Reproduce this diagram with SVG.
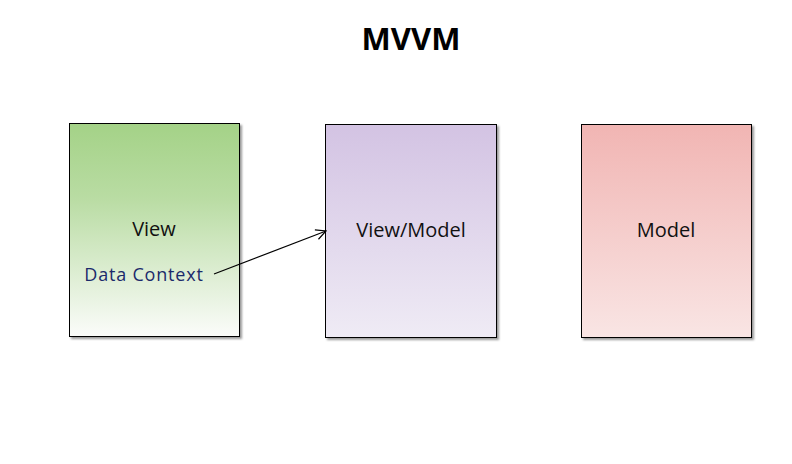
<svg xmlns="http://www.w3.org/2000/svg" width="792" height="464" viewBox="0 0 792 464">
<defs>
<linearGradient id="gV" x1="0" y1="0" x2="0" y2="1"><stop offset="0" stop-color="#a4d287"/><stop offset="0.35" stop-color="#b9dca3"/><stop offset="1" stop-color="#fbfcfa"/></linearGradient>
<linearGradient id="gVM" x1="0" y1="0" x2="0" y2="1"><stop offset="0" stop-color="#d3c3e3"/><stop offset="1" stop-color="#efebf5"/></linearGradient>
<linearGradient id="gM" x1="0" y1="0" x2="0" y2="1"><stop offset="0" stop-color="#f1b5b3"/><stop offset="1" stop-color="#f9e5e4"/></linearGradient>
<filter id="sh" x="-10%" y="-10%" width="130%" height="130%"><feDropShadow dx="2" dy="2" stdDeviation="1.2" flood-color="#000" flood-opacity="0.4"/></filter>
<marker id="arr" viewBox="0 0 12 12" refX="11" refY="6" markerWidth="12" markerHeight="12" markerUnits="userSpaceOnUse" orient="auto"><path d="M1,1 L11,6 L1,11" fill="none" stroke="#000" stroke-width="1.2"/></marker>
</defs>
<style>
.box{stroke:#000;stroke-width:1;filter:url(#sh)}
.lbl{font-family:"Open Sans","DejaVu Sans",sans-serif;font-size:20px;fill:#111;text-anchor:middle}
.dc{font-family:"Open Sans","DejaVu Sans",sans-serif;font-size:18px;letter-spacing:0.8px;fill:#1b2a6b;text-anchor:middle}
.title{font-family:"Open Sans","DejaVu Sans",sans-serif;font-size:31px;font-weight:bold;fill:#000;text-anchor:middle}
</style>
<rect width="792" height="464" fill="#fff"/>
<text class="title" x="411" y="50">MVVM</text>
<g id="view">
<rect class="box" x="69.5" y="123.5" width="170" height="213" fill="url(#gV)"/>
<text class="lbl" x="154" y="236">View</text>
<text class="dc" x="144" y="281">Data Context</text>
</g>
<g id="viewmodel">
<rect class="box" x="325.5" y="124.5" width="171" height="213" fill="url(#gVM)"/>
<text class="lbl" x="411" y="237">View/Model</text>
</g>
<g id="model">
<rect class="box" x="581.5" y="124.5" width="170" height="213" fill="url(#gM)"/>
<text class="lbl" x="666" y="237">Model</text>
</g>
<g id="connectors">
<line x1="214" y1="274" x2="326" y2="231" stroke="#000" stroke-width="1.2" marker-end="url(#arr)"/>
</g>
</svg>
